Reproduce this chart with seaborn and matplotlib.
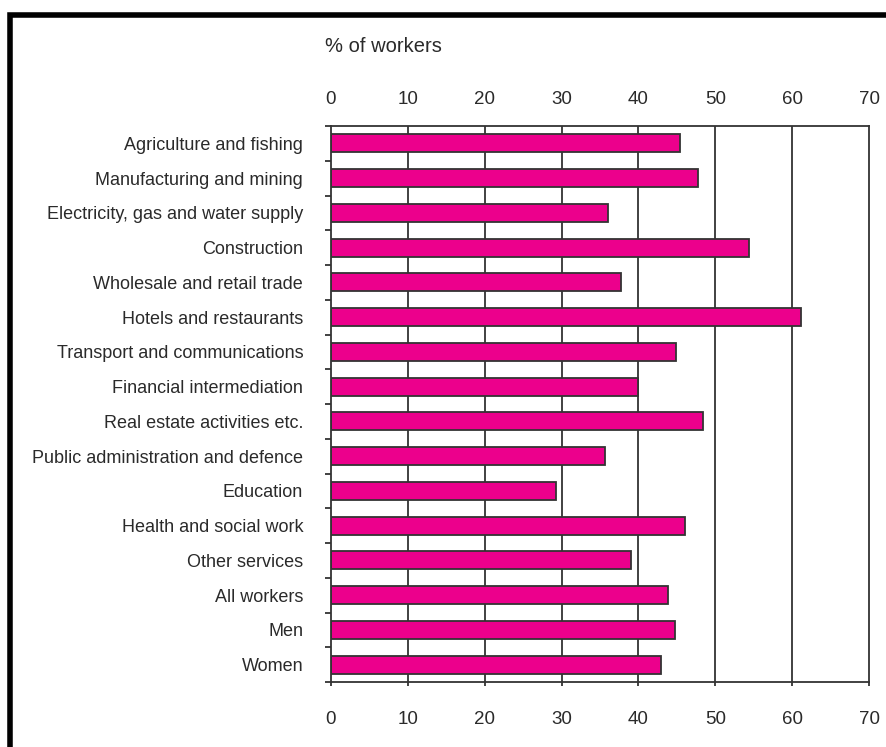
import matplotlib
matplotlib.use("Agg")
import matplotlib.pyplot as plt
import numpy as np
import pandas as pd
import seaborn as sns

sns.set_style("white")
plt.rcParams['font.family'] = ['Liberation Sans', 'DejaVu Sans']

categories = ['Agriculture and fishing', 'Manufacturing and mining',
              'Electricity, gas and water supply', 'Construction',
              'Wholesale and retail trade', 'Hotels and restaurants',
              'Transport and communications', 'Financial intermediation',
              'Real estate activities etc.', 'Public administration and defence',
              'Education', 'Health and social work', 'Other services',
              'All workers', 'Men', 'Women']
values = [45.4, 47.8, 36.1, 54.4, 37.7, 61.1, 44.9, 40.0,
          48.4, 35.6, 29.3, 46.0, 39.0, 43.9, 44.7, 42.9]
xticks = [0, 10, 20, 30, 40, 50, 60, 70]

df = pd.DataFrame({'category': categories, 'pct': values})

TXT = '#2a2a2a'
LINE = '#333333'

fig = plt.figure(figsize=(8.87, 7.47), dpi=100)
ax = fig.add_axes([331 / 887, 1 - 682 / 747, (869 - 331) / 887, (682 - 126) / 747])

# gridlines behind bars
for x in xticks[1:-1]:
    ax.axvline(x, color=LINE, lw=1.3, zorder=0)

sns.barplot(data=df, x='pct', y='category', orient='h', color='#EC008C',
            saturation=1, width=0.52, edgecolor=LINE, linewidth=1.3,
            ax=ax, zorder=2)

ax.set_xlim(0, 70)
ax.set_ylim(len(categories) - 0.5, -0.5)
ax.set_xlabel('')
ax.set_ylabel('')
for s in ax.spines.values():
    s.set_color(LINE)
    s.set_linewidth(1.3)

# y: labels at centres, small ticks at category boundaries
ax.set_yticks(range(len(categories)))
ax.set_yticklabels(categories, fontsize=13, color=TXT)
ax.set_yticks(np.arange(-0.5, len(categories), 1), minor=True)
ax.tick_params(axis='y', which='major', length=0, pad=20)
ax.tick_params(axis='y', which='minor', left=True, length=4, width=1.3,
               color=LINE, direction='out')

# x labels on both top and bottom
ax.set_xticks(xticks)
ax.set_xticklabels([str(t) for t in xticks], fontsize=13.5, color=TXT)
ax.tick_params(axis='x', which='major', bottom=True, length=3, width=1.3,
               color=LINE, direction='out', pad=18)
top = ax.secondary_xaxis('top')
top.set_xticks(xticks)
top.set_xticklabels([str(t) for t in xticks], fontsize=13.5, color=TXT)
top.tick_params(length=0, pad=13)
top.spines['top'].set_visible(False)

fig.text(325 / 887, 1 - 47 / 747, '% of workers', fontsize=14.5,
         color=TXT, ha='left', va='center')

# black frame around the chart (right and bottom cut off)
frame = plt.Rectangle((10 / 887, -0.2), 1.5, 1 - 15 / 747 + 0.2,
                      transform=fig.transFigure, fill=False, lw=4,
                      edgecolor='black')
fig.add_artist(frame)

fig.savefig('out.png', dpi=100)
